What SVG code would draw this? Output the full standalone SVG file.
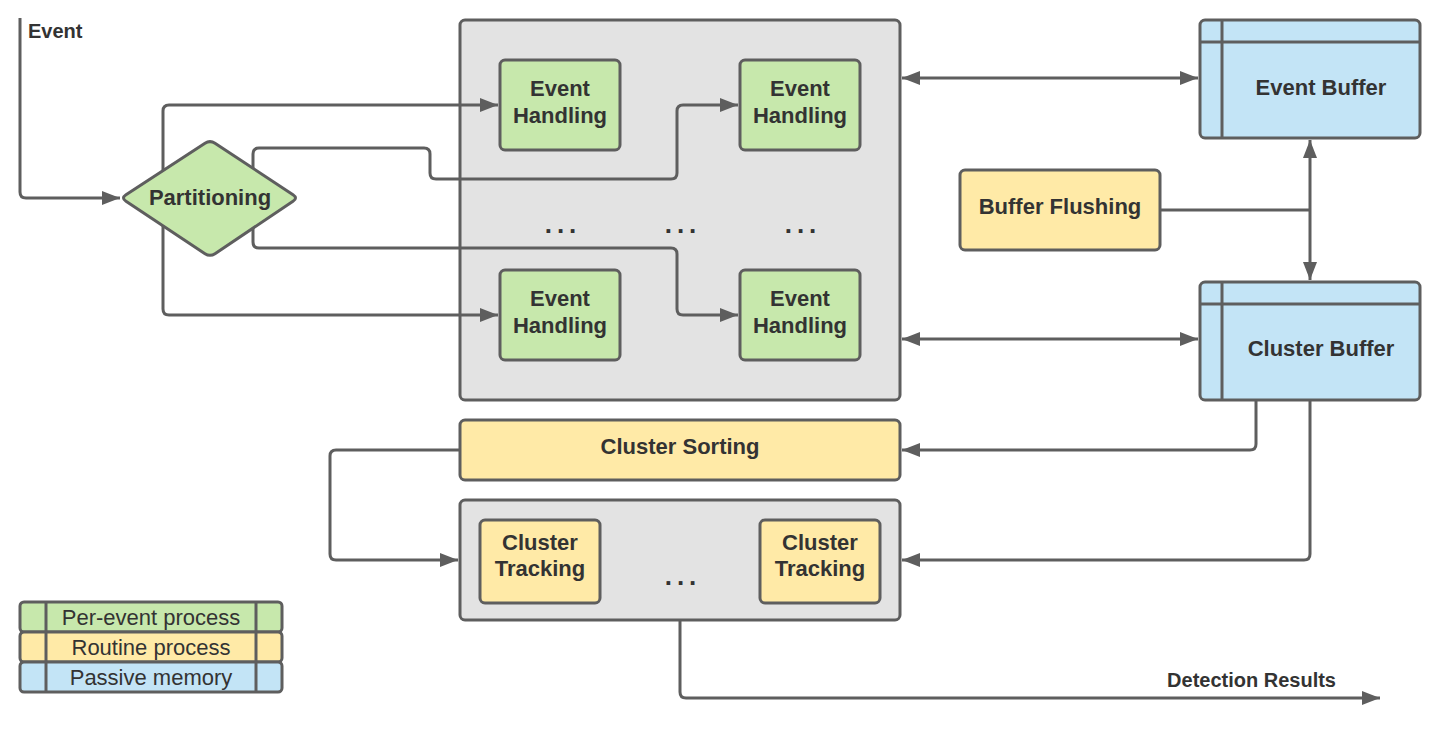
<svg xmlns="http://www.w3.org/2000/svg" width="1440" height="735" viewBox="0 0 1440 735">
<defs>
<marker id="arr" markerUnits="userSpaceOnUse" markerWidth="18" markerHeight="14" refX="18" refY="7" orient="auto-start-reverse">
<path d="M0,0 L18,7 L0,14 Z" fill="#5e5e5e"/>
</marker>
<style>
.box{stroke:#5e5e5e;stroke-width:3}
.grey{fill:#e3e3e3}
.green{fill:#c7e8ac}
.yellow{fill:#ffeaa7}
.blue{fill:#c3e4f6}
.ln{fill:none;stroke:#5e5e5e;stroke-width:3;stroke-linejoin:round}
.c{fill:none;stroke:#5e5e5e;stroke-width:3;stroke-linejoin:round;marker-end:url(#arr)}
.cc{fill:none;stroke:#5e5e5e;stroke-width:3;marker-start:url(#arr);marker-end:url(#arr)}
text{font-family:"Liberation Sans",Arial,sans-serif;fill:#333333}
.t{font-size:22px;font-weight:bold;text-anchor:middle}
.lab{font-size:20px;font-weight:bold}
.leg{font-size:22px;text-anchor:middle}
.dots{font-size:26px;font-weight:bold;text-anchor:middle;letter-spacing:5px}
</style>
</defs>
<rect width="1440" height="735" fill="#ffffff"/>

<g id="handling-pool">
<rect class="box grey" x="460" y="20" width="440" height="380" rx="5"/>
<text class="dots" x="563" y="233">...</text>
<text class="dots" x="683" y="233">...</text>
<text class="dots" x="803" y="233">...</text>
</g>
<g id="tracking-pool">
<rect class="box grey" x="460" y="500" width="440" height="120" rx="5"/>
<text class="dots" x="683" y="585">...</text>
</g>

<g id="connectors">
<path class="c" d="M20,18 V192 Q20,198 26,198 H120"/>
<path class="c" d="M163,170 V111 Q163,105 169,105 H498"/>
<path class="c" d="M253,170 V154 Q253,148 259,148 H424 Q430,148 430,154 V173 Q430,179 436,179 H671 Q677,179 677,173 V111 Q677,105 683,105 H738"/>
<path class="c" d="M253,226 V242 Q253,248 259,248 H671 Q677,248 677,254 V309 Q677,315 683,315 H738"/>
<path class="c" d="M163,226 V309 Q163,315 169,315 H498"/>
<path class="cc" d="M902,78 H1198"/>
<path class="cc" d="M902,339 H1198"/>
<path class="ln" d="M1160,210 H1310"/>
<path class="cc" d="M1310,140 V280"/>
<path class="c" d="M1256,400 V444 Q1256,450 1250,450 H902"/>
<path class="c" d="M1310,400 V554 Q1310,560 1304,560 H902"/>
<path class="c" d="M460,450 H336 Q330,450 330,456 V554 Q330,560 336,560 H458"/>
<path class="c" d="M680,620 V692 Q680,698 686,698 H1380"/>
<text class="lab" x="28" y="38">Event</text>
<text class="lab" x="1336" y="687" text-anchor="end">Detection Results</text>
</g>

<g id="partitioning">
<path class="box green" d="M126,194.7 L205,143.3 Q210,140 215,143.3 L293,194.7 Q298,198 293,201.3 L215,253.7 Q210,257 205,253.7 L126,201.3 Q121,198 126,194.7 Z"/>
<text class="t" x="210" y="205">Partitioning</text>
</g>

<g id="eh1">
<rect class="box green" x="500" y="60" width="120" height="90" rx="5"/>
<text class="t" x="560" y="96">Event</text>
<text class="t" x="560" y="123">Handling</text>
</g>
<g id="eh2">
<rect class="box green" x="740" y="60" width="120" height="90" rx="5"/>
<text class="t" x="800" y="96">Event</text>
<text class="t" x="800" y="123">Handling</text>
</g>
<g id="eh3">
<rect class="box green" x="500" y="270" width="120" height="90" rx="5"/>
<text class="t" x="560" y="306">Event</text>
<text class="t" x="560" y="333">Handling</text>
</g>
<g id="eh4">
<rect class="box green" x="740" y="270" width="120" height="90" rx="5"/>
<text class="t" x="800" y="306">Event</text>
<text class="t" x="800" y="333">Handling</text>
</g>

<g id="event-buffer">
<rect class="box blue" x="1200" y="20" width="220" height="118" rx="5"/>
<path class="ln" d="M1200,42 H1420 M1222,20 V138"/>
<text class="t" x="1321" y="95">Event Buffer</text>
</g>
<g id="cluster-buffer">
<rect class="box blue" x="1200" y="282" width="220" height="118" rx="5"/>
<path class="ln" d="M1200,304 H1420 M1222,282 V400"/>
<text class="t" x="1321" y="356">Cluster Buffer</text>
</g>

<g id="buffer-flushing">
<rect class="box yellow" x="960" y="170" width="200" height="80" rx="5"/>
<text class="t" x="1060" y="214">Buffer Flushing</text>
</g>

<g id="cluster-sorting">
<rect class="box yellow" x="460" y="420" width="440" height="60" rx="5"/>
<text class="t" x="680" y="454">Cluster Sorting</text>
</g>

<g id="ct1">
<rect class="box yellow" x="480" y="520" width="120" height="83" rx="5"/>
<text class="t" x="540" y="550">Cluster</text>
<text class="t" x="540" y="576">Tracking</text>
</g>
<g id="ct2">
<rect class="box yellow" x="760" y="520" width="120" height="83" rx="5"/>
<text class="t" x="820" y="550">Cluster</text>
<text class="t" x="820" y="576">Tracking</text>
</g>

<g id="legend">
<rect class="box green" x="20" y="602" width="262" height="30" rx="4"/>
<rect class="box yellow" x="20" y="632" width="262" height="30" rx="4"/>
<rect class="box blue" x="20" y="662" width="262" height="30" rx="4"/>
<path class="ln" d="M46,602 V692 M256,602 V692"/>
<text class="leg" x="151" y="625">Per-event process</text>
<text class="leg" x="151" y="655">Routine process</text>
<text class="leg" x="151" y="685">Passive memory</text>
</g>
</svg>
